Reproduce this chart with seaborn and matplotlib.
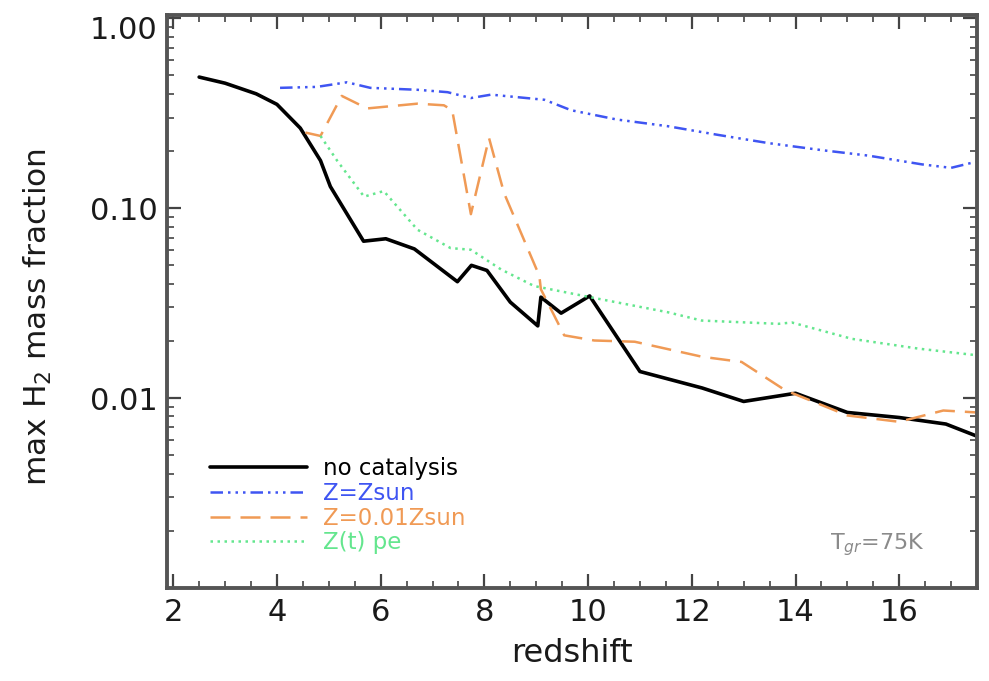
import numpy as np
import pandas as pd
import matplotlib
matplotlib.use("Agg")
import matplotlib.pyplot as plt
import matplotlib.ticker as mticker
from matplotlib.transforms import ScaledTranslation
import seaborn as sns

# ---- data ----
black_x = [2.5, 3.0, 3.6, 4.0, 4.45, 4.84, 5.03, 5.67, 6.1, 6.65, 7.48, 7.75, 8.05, 8.5, 9.03,
           9.09, 9.48, 10.03, 11.0, 12.2, 13.0, 14.0, 15.0, 16.0, 16.9, 17.5]
black_y = [0.49, 0.455, 0.40, 0.352, 0.264, 0.178, 0.13, 0.067, 0.069, 0.061, 0.041, 0.050, 0.047,
           0.032, 0.024, 0.034, 0.028, 0.0345, 0.0138, 0.0113, 0.0096, 0.0106, 0.0084, 0.0079,
           0.0073, 0.0063]

blue_x = [4.06, 4.77, 5.35, 5.8, 6.71, 7.29, 7.74, 8.13, 8.64, 9.16, 9.67, 10.55, 11.54, 12.51,
          13.48, 14.51, 15.41, 16.44, 17.0, 17.5]
blue_y = [0.43, 0.435, 0.46, 0.43, 0.42, 0.408, 0.38, 0.396, 0.384, 0.372, 0.328, 0.293, 0.27,
          0.243, 0.22, 0.202, 0.189, 0.17, 0.163, 0.176]

orange_x = [4.55, 4.84, 5.25, 5.74, 6.71, 7.22, 7.38, 7.74, 8.09, 8.38, 9.06, 9.09, 9.54, 10.12,
            10.9, 12.2, 12.96, 13.8, 15.0, 16.0, 16.85, 17.5]
orange_y = [0.25, 0.24, 0.39, 0.335, 0.355, 0.348, 0.328, 0.093, 0.234, 0.12, 0.044, 0.0374,
            0.0214, 0.0201, 0.0198, 0.0165, 0.0155, 0.011, 0.0081, 0.0075, 0.0086, 0.0084]

green_x = [4.84, 5.16, 5.68, 6.06, 6.71, 7.35, 7.74, 8.32, 8.96, 10.06, 11.54, 12.19, 13.67,
           13.93, 15.09, 16.38, 17.5]
green_y = [0.24, 0.178, 0.115, 0.123, 0.077, 0.0616, 0.0604, 0.0476, 0.0389, 0.0339, 0.0283,
           0.0256, 0.0246, 0.025, 0.0205, 0.0182, 0.0168]

labels = ["no catalysis", "Z=Zsun", "Z=0.01Zsun", "Z(t) pe"]
colors = ["#000000", "#3f55f2", "#f09a55", "#64e68e"]
xticks = [2, 4, 6, 8, 10, 12, 14, 16]
yticks = [0.01, 0.1, 1.0]
ytick_labels = ["0.01", "0.10", "1.00"]

frames = []
for lab, xs, ys in zip(labels, [black_x, blue_x, orange_x, green_x],
                       [black_y, blue_y, orange_y, green_y]):
    frames.append(pd.DataFrame({"redshift": xs, "frac": ys, "series": lab}))
df = pd.concat(frames, ignore_index=True)

sns.set_style("ticks")
plt.rcParams["font.family"] = ["DejaVu Sans"]

fig = plt.figure(figsize=(9.89, 6.81), dpi=100)
ax = fig.add_axes([167 / 989, 1 - 588 / 681, (977 - 167) / 989, (588 - 15) / 681])

styles = {
    "no catalysis": dict(lw=2.6, ls="-"),
    "Z=Zsun": dict(lw=1.8, ls=(0, (5, 2, 1, 2, 1, 2, 1, 2))),
    "Z=0.01Zsun": dict(lw=1.8, ls=(0, (8, 4))),
    "Z(t) pe": dict(lw=1.8, ls=(0, (1, 1.8))),
}
for lab, col in zip(labels, colors):
    sub = df[df["series"] == lab]
    sns.lineplot(data=sub, x="redshift", y="frac", ax=ax, color=col, sort=False,
                 estimator=None, label=lab, linewidth=styles[lab]["lw"],
                 linestyle=styles[lab]["ls"])

ax.set_yscale("log")
ax.set_xlim(1.88, 17.5)
ax.set_ylim(0.001, 1.04)
ax.set_xticks(xticks)
ax.set_xticklabels([str(t) for t in xticks])
ax.xaxis.set_minor_locator(mticker.MultipleLocator(0.5))
ax.set_yticks(yticks)
ax.set_yticklabels(ytick_labels)
ax.yaxis.set_minor_locator(mticker.LogLocator(base=10, subs=np.arange(2, 10)))
ax.yaxis.set_minor_formatter(mticker.NullFormatter())

ax.tick_params(which="both", direction="in", top=True, right=True, color="#444444")
ax.tick_params(which="major", length=10, width=1.6, labelsize=22, pad=7, labelcolor="#1a1a1a")
ax.tick_params(which="minor", length=5, width=1.2)
for s in ax.spines.values():
    s.set_linewidth(2.8)
    s.set_color("#555555")

# shift the top label down slightly, as in the original
for t in ax.get_yticklabels():
    if t.get_text() == "1.00":
        t.set_transform(t.get_transform() + ScaledTranslation(0, -0.09, fig.dpi_scale_trans))

ax.set_xlabel("redshift", fontsize=23, labelpad=8, color="#1a1a1a")
ax.set_ylabel("max H$_2$ mass fraction", fontsize=22.5, color="#1a1a1a")
ax.yaxis.set_label_coords(-0.14, 0.473)

leg = ax.legend(loc="lower left", bbox_to_anchor=(0.028, 0.023), frameon=False,
                fontsize=16.5, handlelength=4.2, handletextpad=0.7,
                labelspacing=0.07, labelcolor="linecolor")

ax.text(0.936, 0.075, "T$_{gr}$=75K", transform=ax.transAxes, ha="right", va="center",
        fontsize=16, color="#8a8a8a")

fig.savefig("out.png", dpi=100)
